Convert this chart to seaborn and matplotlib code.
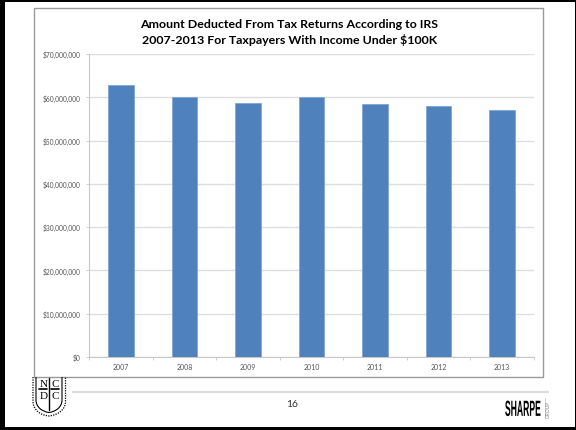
import matplotlib
matplotlib.use("Agg")
import matplotlib.pyplot as plt
import matplotlib.patheffects as pe
from matplotlib.patches import Rectangle, PathPatch
from matplotlib.path import Path
from matplotlib.ticker import FuncFormatter
from matplotlib.transforms import Affine2D
import seaborn as sns
import pandas as pd

years = ["2007", "2008", "2009", "2010", "2011", "2012", "2013"]
amounts = [62800000, 60000000, 58600000, 60000000, 58500000, 57900000, 57000000]
title_lines = "Amount Deducted From Tax Returns According to IRS\n2007-2013 For Taxpayers With Income Under $100K"
W, H = 576, 431

sns.set_theme(style="white")
plt.rcParams['font.family'] = ['Lato', 'DejaVu Sans']

fig = plt.figure(figsize=(W/100, H/100), dpi=100, facecolor="black")


def px(x0, y0, x1, y1):
    return (x0/W, 1-y1/H, (x1-x0)/W, (y1-y0)/H)


class VStretch(pe.AbstractPathEffect):
    """Stretch a text's glyphs about a display-space height, for the logotype."""
    def __init__(self, cy, sy):
        super().__init__()
        self.cy, self.sy = cy, sy

    def draw_path(self, renderer, gc, tpath, affine, rgbFace=None):
        t = affine + Affine2D().translate(0, -self.cy).scale(1, self.sy).translate(0, self.cy)
        renderer.draw_path(gc, tpath, t, rgbFace)


# slide frame
bg = fig.add_axes([0, 0, 1, 1], zorder=0)
bg.set_xlim(0, W); bg.set_ylim(H, 0); bg.axis("off")
bg.add_patch(Rectangle((5, 3), 570, 425, fc="white", ec="none"))
bg.add_patch(Rectangle((33.5, 8.5), 509.5, 369, fill=False, ec="#9a9a9a", lw=1))
bg.plot([73, 548], [392.7, 392.7], color="#dcdcdc", lw=1.6)
bg.text(292, 404.5, "16", ha="center", va="center", fontsize=7.5, color="#333333")

# crest
codes = [Path.MOVETO, Path.LINETO, Path.CURVE4, Path.CURVE4, Path.CURVE4, Path.CURVE4, Path.CURVE4, Path.CURVE4, Path.LINETO]
outer = [(33, 378), (33, 402), (33, 411), (40, 416), (49, 417), (58, 416), (65.5, 411), (65.5, 402), (65.5, 378)]
bg.add_patch(PathPatch(Path(outer, codes), fill=False, ec="black", lw=0.9, ls=(0, (1, 1))))
inner = [(36, 378), (36, 401), (36, 408), (42, 412.5), (49, 413.5), (56, 412.5), (62, 408), (62, 401), (62, 378)]
bg.add_patch(PathPatch(Path(inner, codes), fill=False, ec="black", lw=0.8))
bg.plot([49, 49], [379, 411], color="black", lw=1)
bg.plot([39, 47], [390, 390], color="black", lw=1.2)
bg.plot([51, 59], [390, 390], color="black", lw=1.2)
for (x, y, s) in [(44, 384.5, "N"), (55, 384.5, "C"), (44, 396.5, "D"), (55, 396.5, "C")]:
    bg.text(x, y, s, ha="center", va="center", fontsize=8, color="black", family="Liberation Serif")

# Sharpe mark
sharpe_y = 410.5
bg.text(523, sharpe_y, "SHARPE", ha="center", va="center", fontsize=6.2, fontweight="bold",
        color="black", family="Liberation Sans",
        path_effects=[VStretch(H - sharpe_y, 2.55)])
bg.plot([544.5, 544.5], [399, 419], color="#cccccc", lw=0.6)
bg.text(548.5, 409, "GROUP", rotation=90, ha="center", va="center", fontsize=3.5, color="#888888")

# chart
ax = fig.add_axes(px(89, 55, 534, 358), zorder=1)
ax.patch.set_alpha(0)
df = pd.DataFrame({"year": years, "amount": amounts})
sns.barplot(data=df, x="year", y="amount", color="#4f81bd", saturation=1, width=0.4,
            edgecolor="#7fa6d6", linewidth=0.6, ax=ax, zorder=3)
ax.set_ylim(0, 70000000)
ax.set_xlim(-0.5, 6.5)
ax.set_yticks(range(0, 70000001, 10000000))
ax.yaxis.set_major_formatter(FuncFormatter(lambda v, _: f"${v:,.0f}"))
ax.set_xlabel(""); ax.set_ylabel("")
ax.grid(axis="y", color="#dedede", lw=1, zorder=0)
ax.set_axisbelow(True)
for s in ("top", "right"):
    ax.spines[s].set_visible(False)
for s in ("left", "bottom"):
    ax.spines[s].set_color("#c8c8c8")
    ax.spines[s].set_linewidth(0.8)
ax.set_xticks([i - 0.5 for i in range(8)], minor=True)
ax.tick_params(axis="x", which="major", length=0, labelsize=5.0, labelcolor="#555555", pad=4.5)
ax.tick_params(axis="x", which="minor", length=2.5, width=0.6, color="#c8c8c8", bottom=True)
ax.tick_params(axis="y", which="major", length=2.5, width=0.6, color="#c8c8c8", left=True,
               labelsize=4.8, labelcolor="#555555", pad=3.8)

bg.text(289.5, 32, title_lines, ha="center", va="center", fontsize=8.9, fontweight="bold",
        color="black", linespacing=1.4)

fig.savefig("out.png", dpi=100, facecolor="black")
